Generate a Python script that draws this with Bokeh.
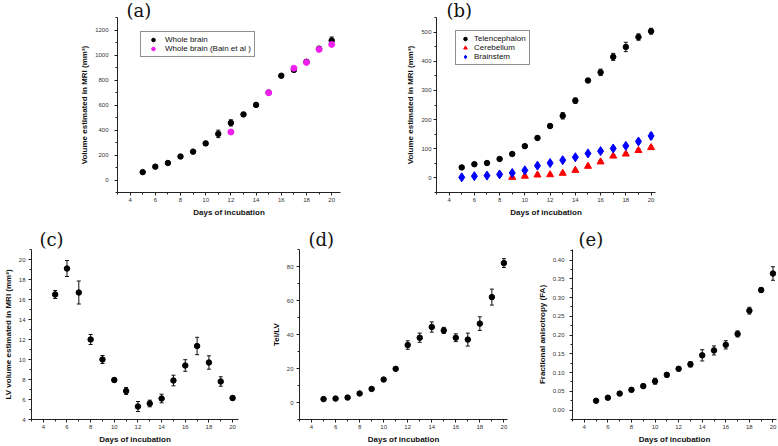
from bokeh.plotting import figure
from bokeh.models import (ColumnDataSource, Whisker, TeeHead, Range1d, SingleIntervalTicker,
                          Legend, LegendItem, NumeralTickFormatter)
from bokeh.layouts import row, column
from bokeh.embed import file_html
from bokeh.resources import INLINE

# ---------------- data ----------------
days = [5, 6, 7, 8, 9, 10, 11, 12, 13, 14, 15, 16, 17, 18, 19, 20]

# (a) whole brain volume (mm3)
whole_brain = [63, 107, 136, 188, 227, 293, 369, 457, 525, 601, 700, 834, 881, 946, 1051, 1116]
whole_brain_err = [8, 8, 8, 10, 8, 16, 30, 25, 8, 8, 8, 12, 14, 12, 14, 28]
bain_days = [12, 15, 17, 18, 19, 20]
bain_vals = [384, 698, 894, 941, 1045, 1085]

# (b) regional volumes (mm3)
telencephalon = [36, 47, 51, 65, 82, 109, 137, 178, 213, 265, 334, 362, 415, 449, 483, 503]
telencephalon_err = [5, 4, 4, 4, 4, 5, 6, 6, 11, 9, 7, 11, 12, 16, 11, 10]
cerebellum_days = [9, 10, 11, 12, 13, 14, 15, 16, 17, 18, 19, 20]
cerebellum = [2, 6, 10, 11, 16, 26, 40, 55, 75, 82, 94, 104]
cerebellum_err = [3, 3, 4, 3, 4, 4, 5, 5, 5, 5, 6, 6]
brainstem = [2, 6, 8, 12, 17, 26, 42, 51, 61, 71, 84, 92, 101, 110, 125, 144]
brainstem_err = [2, 2, 3, 3, 3, 3, 4, 4, 4, 4, 5, 5, 5, 5, 6, 10]

# (c) LV volume (mm3)
lv_volume = [16.5, 19.1, 16.7, 12.0, 10.0, 7.95, 6.85, 5.3, 5.6, 6.1, 7.9, 9.4, 11.35, 9.7, 7.8, 6.15]
lv_volume_err = [0.4, 0.8, 1.15, 0.5, 0.4, 0.2, 0.35, 0.5, 0.33, 0.43, 0.53, 0.58, 0.87, 0.67, 0.47, 0.2]

# (d) Tel/LV
tel_lv = [2.0, 2.3, 2.9, 5.3, 8.0, 13.5, 19.8, 33.8, 38.1, 44.4, 42.4, 38.1, 37.0, 46.4, 62.0, 82.0]
tel_lv_err = [0.5, 0.5, 0.5, 0.6, 0.8, 0.6, 1.0, 2.5, 2.7, 3.0, 1.8, 2.3, 3.8, 4.0, 4.7, 2.6]

# (e) fractional anisotropy
fa = [0.025, 0.033, 0.044, 0.054, 0.064, 0.077, 0.094, 0.110, 0.122, 0.146, 0.159, 0.174, 0.203, 0.265, 0.320, 0.364]
fa_err = [0.003, 0.004, 0.004, 0.005, 0.005, 0.008, 0.006, 0.005, 0.007, 0.015, 0.012, 0.011, 0.008, 0.009, 0.006, 0.018]

x_label = "Days of incubation"
FONT = "Liberation Sans"
SERIF = "DejaVu Serif"
TITLE_SIZE = "18px"


def src(xs, ys, errs=None):
    d = dict(x=xs, y=ys)
    if errs is not None:
        d["upper"] = [a + b for a, b in zip(ys, errs)]
        d["lower"] = [a - b for a, b in zip(ys, errs)]
    return ColumnDataSource(d)


def make_fig(width, height, bl, br, bt, bb, xr, yr, yint, ylabel, ystand, fmt=None,
             title=None, toff=0, tstand=0):
    p = figure(width=width, height=height, output_backend="svg", toolbar_location=None,
               x_range=Range1d(*xr), y_range=Range1d(*yr),
               min_border_left=bl, min_border_right=br, min_border_top=bt, min_border_bottom=bb)
    p.title.text = title
    p.title.text_font = SERIF
    p.title.text_font_size = TITLE_SIZE
    p.title.text_font_style = "normal"
    p.title.text_color = "#111111"
    p.title.align = "left"
    p.title.offset = toff
    p.title.standoff = tstand
    p.xgrid.visible = False
    p.ygrid.visible = False
    p.outline_line_color = None
    p.background_fill_color = "white"
    p.border_fill_color = "white"
    p.xaxis.ticker = SingleIntervalTicker(interval=2, num_minor_ticks=2)
    p.yaxis.ticker = SingleIntervalTicker(interval=yint, num_minor_ticks=2)
    if fmt:
        p.yaxis.formatter = NumeralTickFormatter(format=fmt)
    for ax in (p.xaxis, p.yaxis):
        ax.axis_line_color = "#222222"
        ax.axis_line_width = 1
        ax.major_tick_line_color = "#222222"
        ax.minor_tick_line_color = "#222222"
        ax.major_tick_in = 0
        ax.major_tick_out = 3
        ax.minor_tick_in = 0
        ax.minor_tick_out = 2
        ax.major_label_text_font = FONT
        ax.major_label_text_font_size = "6px"
        ax.major_label_text_color = "#333333"
        ax.major_label_standoff = 2
        ax.axis_label_text_font = FONT
        ax.axis_label_text_font_size = "8px"
        ax.axis_label_text_font_style = "bold"
        ax.axis_label_text_color = "#111111"
        ax.axis_label_standoff = 3
    p.yaxis.major_label_standoff = ystand
    p.xaxis.axis_label = x_label
    p.yaxis.axis_label = ylabel
    return p


def errbars(p, s):
    w = Whisker(source=s, base="x", upper="upper", lower="lower", line_color="#111111",
                line_width=1,
                upper_head=TeeHead(size=4, line_color="#111111", line_width=1),
                lower_head=TeeHead(size=4, line_color="#111111", line_width=1))
    p.add_layout(w)


def style_legend(lg, gw):
    lg.border_line_color = "#222222"
    lg.border_line_width = 1
    lg.background_fill_color = "white"
    lg.background_fill_alpha = 1
    lg.label_text_font = FONT
    lg.label_text_font_size = "8px"
    lg.label_text_color = "#111111"
    lg.padding = 3
    lg.spacing = 0
    lg.margin = 0
    lg.label_height = 9
    lg.glyph_height = 9
    lg.glyph_width = gw
    lg.label_standoff = 3


VOL_LABEL = "Volume estimated in MRI (mm\u00b3)"
MS = 5.5
TOP_H = 220
BOT_H = 226

# ---------------- (a) ----------------
pa = make_fig(384, TOP_H, 117, 44, 14, 28, (3, 20.7), (-100, 1300), 200, VOL_LABEL, 6,
              title="(a)", toff=9, tstand=-6)
sa = src(days, whole_brain, whole_brain_err)
errbars(pa, sa)
ra1 = pa.scatter("x", "y", source=sa, marker="circle", size=MS, color="black")
sb = src(bain_days, bain_vals)
ra2 = pa.scatter("x", "y", source=sb, marker="circle", size=MS + 0.5, color="#f020f0")
lga = Legend(items=[LegendItem(label="Whole brain", renderers=[ra1]),
                    LegendItem(label="Whole brain (Bain et al )", renderers=[ra2])],
             location=(23, 135))
style_legend(lga, 18)
pa.add_layout(lga)

# ---------------- (b) ----------------
pb = make_fig(394, TOP_H, 52, 123, 14, 28, (3, 20.35), (-50, 550), 100, VOL_LABEL, 2,
              title="(b)", toff=10, tstand=-6)
st = src(days, telencephalon, telencephalon_err)
sc = src(cerebellum_days, cerebellum, cerebellum_err)
sbs = src(days, brainstem, brainstem_err)
errbars(pb, st)
errbars(pb, sc)
errbars(pb, sbs)
rb1 = pb.scatter("x", "y", source=st, marker="circle", size=MS, color="black")
rb2 = pb.scatter("x", "y", source=sc, marker="triangle", size=7, color="#ff0000")
rb3 = pb.scatter("x", "y", source=sbs, marker="diamond", size=9, color="#0000ff")
lgb = Legend(items=[LegendItem(label="Telencephalon", renderers=[rb1]),
                    LegendItem(label="Cerebellum", renderers=[rb2]),
                    LegendItem(label="Brainstem", renderers=[rb3])],
             location=(19, 127))
style_legend(lgb, 12)
pb.add_layout(lgb)

# ---------------- (c) ----------------
pc = make_fig(268, BOT_H, 28, 30, 29, 27, (3, 20.5), (4, 21), 2,
              "LV volume estimated in MRI (mm\u00b3)", 3, title="(c)", toff=8)
s_c = src(days, lv_volume, lv_volume_err)
errbars(pc, s_c)
pc.scatter("x", "y", source=s_c, marker="circle", size=MS, color="black")

# ---------------- (d) ----------------
pd = make_fig(266, BOT_H, 30, 27, 29, 27, (3, 20.3), (-10, 90), 20, "Tel/LV", 3,
              title="(d)", toff=9)
s_d = src(days, tel_lv, tel_lv_err)
errbars(pd, s_d)
pd.scatter("x", "y", source=s_d, marker="circle", size=MS, color="black")

# ---------------- (e) ----------------
pe = make_fig(244, BOT_H, 34, 2, 29, 27, (3, 20.3), (-0.025, 0.428), 0.05,
              "Fractional anisotropy (FA)", 5, fmt="0.00", title="(e)", toff=6)
s_e = src(days, fa, fa_err)
errbars(pe, s_e)
pe.scatter("x", "y", source=s_e, marker="circle", size=MS, color="black")

layout = column(row(pa, pb), row(pc, pd, pe))
open("out.html", "w").write(file_html(layout, INLINE))
